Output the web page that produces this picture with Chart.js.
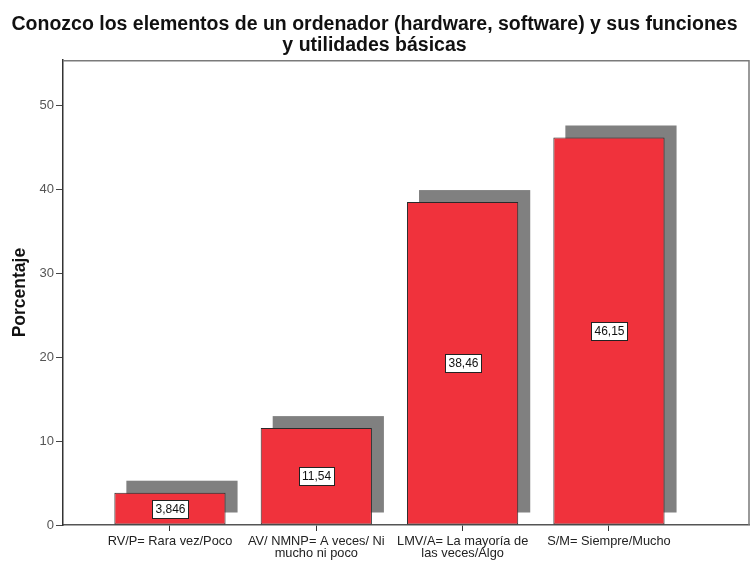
<!DOCTYPE html>
<html>
<head>
<meta charset="utf-8">
<style>
  html, body { margin: 0; padding: 0; background: #ffffff; }
  #wrap { width: 751px; height: 563px; }
</style>
<script src="https://cdn.jsdelivr.net/npm/chart.js@4/dist/chart.umd.min.js"></script>
</head>
<body>
<div id="wrap"><canvas id="c" width="751" height="563"></canvas></div>
<script>
const titleLines = ['Conozco los elementos de un ordenador (hardware, software) y sus funciones', 'y utilidades básicas'];
const categories = [
  ['RV/P= Rara vez/Poco'],
  ['AV/ NMNP= A veces/ Ni', 'mucho ni poco'],
  ['LMV/A= La mayoría de', 'las veces/Algo'],
  ['S/M= Siempre/Mucho']
];
const values = [3.846, 11.54, 38.46, 46.15];
const yTicks = [0, 10, 20, 30, 40, 50];
const yAxisTitle = 'Porcentaje';

const FONT = "'Liberation Sans', Arial, sans-serif";

const shadowPlugin = {
  id: 'shadow',
  beforeDatasetsDraw(chart) {
    const ctx = chart.ctx;
    const meta = chart.getDatasetMeta(0);
    ctx.save();
    ctx.fillStyle = '#808080';
    meta.data.forEach(bar => {
      const p = bar.getProps(['x', 'y', 'base', 'width'], true);
      ctx.fillRect(p.x - p.width / 2 + 12, p.y - 12, p.width, p.base - p.y);
    });
    ctx.restore();
  }
};

const labelPlugin = {
  id: 'valueLabels',
  afterDatasetsDraw(chart) {
    const ctx = chart.ctx;
    const meta = chart.getDatasetMeta(0);
    ctx.save();
    ctx.font = '12px ' + FONT;
    ctx.textAlign = 'center';
    ctx.textBaseline = 'middle';
    meta.data.forEach((bar, i) => {
      const p = bar.getProps(['x', 'y', 'base'], true);
      const txt = String(values[i]).replace('.', ',');
      const w = Math.round(ctx.measureText(txt).width + 6);
      const h = 18;
      const cy = Math.round((p.y + p.base) / 2);
      const cx = Math.round(p.x);
      const left = Math.round(cx - w / 2);
      const top = Math.round(cy - h / 2);
      ctx.fillStyle = '#ffffff';
      ctx.fillRect(left, top, w, h);
      ctx.strokeStyle = '#222222';
      ctx.lineWidth = 1;
      ctx.strokeRect(left + 0.5, top + 0.5, w, h);
      ctx.fillStyle = '#111111';
      ctx.fillText(txt, cx + 0.5, cy + 1);
    });
    ctx.restore();
  }
};

const framePlugin = {
  id: 'frame',
  afterDraw(chart) {
    const a = chart.chartArea;
    const ctx = chart.ctx;
    ctx.save();
    ctx.strokeStyle = '#7a7a7a';
    ctx.lineWidth = 1.5;
    ctx.beginPath();
    ctx.moveTo(a.left, a.top + 0.5);
    ctx.lineTo(a.right, a.top + 0.5);
    ctx.lineTo(a.right, a.bottom);
    ctx.stroke();
    ctx.restore();
  }
};

new Chart(document.getElementById('c'), {
  type: 'bar',
  data: {
    datasets: [{
      data: values.map((v, i) => ({ x: i + 1, y: v })),
      backgroundColor: '#f0323c',
      borderColor: '#2a2a2a',
      borderWidth: 1,
      borderSkipped: false,
      barPercentage: 0.76,
      categoryPercentage: 1
    }]
  },
  options: {
    responsive: false,
    animation: false,
    devicePixelRatio: 1,
    layout: { padding: { left: 0, right: 2, top: 0, bottom: 0 } },
    plugins: {
      legend: { display: false },
      tooltip: { enabled: false },
      title: {
        display: true,
        text: titleLines,
        color: '#111111',
        font: { family: FONT, size: 19.5, weight: 'bold', lineHeight: 1.03 },
        padding: { top: 15, bottom: 5 }
      }
    },
    scales: {
      x: {
        type: 'linear',
        offset: false,
        min: 0.269,
        max: 4.957,
        afterBuildTicks(scale) {
          scale.ticks = categories.map((_, i) => ({ value: i + 1 }));
        },
        afterFit(scale) { scale.height = 38; },
        ticks: {
          autoSkip: false,
          maxRotation: 0,
          color: '#222222',
          font: { family: FONT, size: 12.8, lineHeight: 0.98 },
          padding: 4,
          callback: (v) => categories[v - 1]
        },
        grid: {
          offset: false,
          drawOnChartArea: false,
          drawTicks: true,
          tickLength: 6,
          color: '#333333'
        },
        border: { display: true, color: '#555555', width: 1.5 }
      },
      y: {
        min: 0,
        max: 55.36,
        afterBuildTicks(scale) {
          scale.ticks = yTicks.map(v => ({ value: v }));
        },
        afterFit(scale) { scale.width = 63; },
        ticks: {
          color: '#555555',
          font: { family: FONT, size: 13 },
          padding: 2
        },
        grid: {
          drawOnChartArea: false,
          drawTicks: true,
          tickLength: 7,
          color: '#444444'
        },
        border: { display: true, color: '#333333', width: 1.5 },
        title: {
          display: true,
          text: yAxisTitle,
          color: '#111111',
          font: { family: FONT, size: 17.5, weight: 'bold' },
          padding: { top: 10, bottom: 0 }
        }
      }
    }
  },
  plugins: [shadowPlugin, labelPlugin, framePlugin]
});
</script>
</body>
</html>
